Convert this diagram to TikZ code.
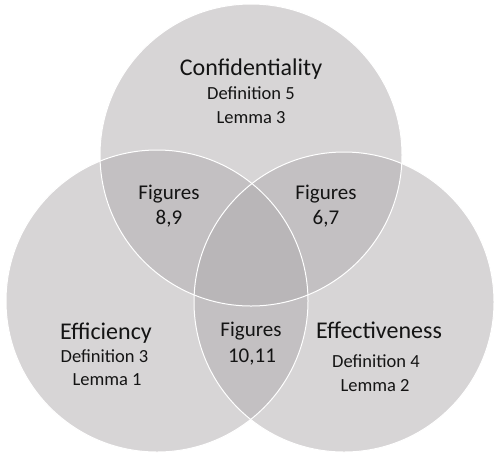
\documentclass[tikz,border=0pt]{standalone}
\usepackage{fontspec}
\setmainfont{Carlito}
\begin{document}
\begin{tikzpicture}[x=1pt,y=-1pt,
  venn/.style={fill={rgb,255:red,177;green,173;blue,175},fill opacity=0.5,draw=none},
  rim/.style={draw=white,line width=1pt},
  big/.style={font=\fontsize{24}{28}\selectfont,anchor=base,inner sep=0pt,text={rgb,255:red,20;green,20;blue,20}},
  mid/.style={font=\fontsize{21}{25}\selectfont,anchor=base,inner sep=0pt,text={rgb,255:red,20;green,20;blue,20}},
  small/.style={font=\fontsize{18.5}{22}\selectfont,anchor=base,inner sep=0pt,text={rgb,255:red,20;green,20;blue,20}}]
\useasboundingbox (0,0) rectangle (494,456);
\fill[white] (0,0) rectangle (494,456);
\coordinate (ct) at (251,155);
\coordinate (cl) at (157,301);
\coordinate (cr) at (344,302);
\fill[venn] (ct) circle (151);
\fill[venn] (cl) circle (151);
\fill[venn] (cr) circle (150);
\draw[rim] (ct) circle (151);
\draw[rim] (cl) circle (151);
\draw[rim] (cr) circle (150);
\node[big] (conf) at (251,75) {Confidentiality};
\node[small] (def5) at (251,99.5) {Definition 5};
\node[small] (lem3) at (251,123) {Lemma 3};
\node[mid] (fa) at (169,199) {Figures};
\node[mid] (fan) at (169,224) {8,9};
\node[mid] (fb) at (326,199) {Figures};
\node[mid] (fbn) at (326,224) {6,7};
\node[mid] (fc) at (251,336) {Figures};
\node[mid] (fcn) at (252,362) {10,11};
\node[big] (eff) at (106,339) {Efficiency};
\node[small] (def3) at (104.5,362) {Definition 3};
\node[small] (lem1) at (107,385) {Lemma 1};
\node[big] (effe) at (379,338) {Effectiveness};
\node[small] (def4) at (376,367) {Definition 4};
\node[small] (lem2) at (375,391) {Lemma 2};
\end{tikzpicture}
\end{document}
